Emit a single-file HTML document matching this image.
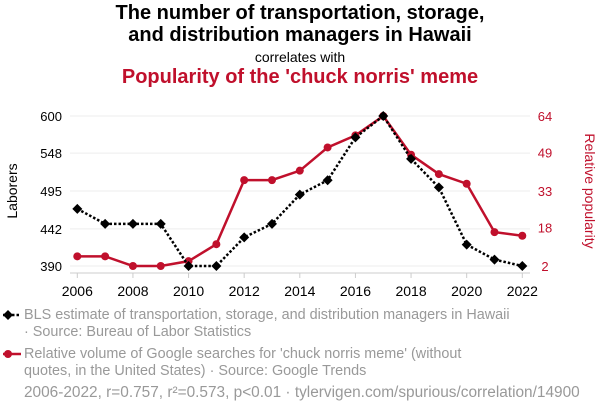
<!DOCTYPE html>
<html><head><meta charset="utf-8"><style>
body{margin:0;background:#fff;font-family:"Liberation Sans",sans-serif;}
#wrap{position:relative;width:600px;height:414px;overflow:hidden;}
.t{position:absolute;left:0;width:600px;text-align:center;}
.leg{position:absolute;left:24px;font-size:14.4px;color:#999;line-height:17px;white-space:nowrap;}
</style></head><body>
<div id="wrap">
<div class="t" style="top:2px;font-size:20px;font-weight:bold;line-height:22px;color:#000">The number of transportation, storage,<br>and distribution managers in Hawaii</div>
<div class="t" style="top:49px;font-size:14px;color:#000">correlates with</div>
<div class="t" style="top:66px;font-size:20px;font-weight:bold;color:#c0102c">Popularity of the 'chuck norris' meme</div>
<svg id="svg" width="600" height="414" style="position:absolute;left:0;top:0"></svg>
<div class="leg" style="top:307px">BLS estimate of transportation, storage, and distribution managers in Hawaii<br>· Source: Bureau of Labor Statistics</div>
<div class="leg" style="top:346px">Relative volume of Google searches for 'chuck norris meme' (without<br>quotes, in the United States) · Source: Google Trends</div>
<div class="leg" style="top:384px;left:24px;font-size:15.4px">2006-2022, r=0.757, r²=0.573, p&lt;0.01 · tylervigen.com/spurious/correlation/14900</div>
</div>
<script>
const years=[2006,2007,2008,2009,2010,2011,2012,2013,2014,2015,2016,2017,2018,2019,2020,2021,2022];
const laborers=[470,449,449,449,390,390,430,449,490,510,570,600,540,500,420,399,390];
const popularity=[6,6,2,2,4,11,37.5,37.5,41.4,51,56,64,48,40,36,16,14.5];
const leftTicks=[390,442,495,548,600];
const rightTicks=[2,18,33,49,64];
const xTicks=[2006,2008,2010,2012,2014,2016,2018,2020,2022];
const NS="http://www.w3.org/2000/svg";
const svg=document.getElementById('svg');
const x=v=>77.3+(v-2006)*(522.3-77.3)/16;
const yL=v=>266-(v-390)*150/210;
const yR=v=>266-(v-2)*150/62;
function mk(t,a){const e=document.createElementNS(NS,t);for(const k in a)e.setAttribute(k,a[k]);svg.appendChild(e);return e;}
leftTicks.forEach(v=>{
 let g=mk('line',{x1:70,x2:530,y1:yL(v),y2:yL(v),stroke:'#eee','stroke-width':1});
 
 
 let t=mk('text',{x:62,y:yL(v)+5,'text-anchor':'end','font-size':13,fill:'#000'});t.textContent=v;
 
 
});
rightTicks.forEach(v=>{
 let t=mk('text',{x:545,y:yR(v)+5,'text-anchor':'middle','font-size':13,fill:'#c0102c'});t.textContent=v;
 
 
});
let ax=mk('line',{x1:70,x2:530,y1:273,y2:273,stroke:'#ccc'});


xTicks.forEach(v=>{
 let l=mk('line',{x1:x(v),x2:x(v),y1:273,y2:278,stroke:'#ccc'});
 
 
 let t=mk('text',{x:x(v),y:296,'text-anchor':'middle','font-size':14,fill:'#000'});t.textContent=v;
 
 
});
let yl=mk('text',{x:0,y:0,transform:'translate(17,191) rotate(-90)','text-anchor':'middle','font-size':14,fill:'#000'});yl.textContent='Laborers';


let yr=mk('text',{x:0,y:0,transform:'translate(585,191) rotate(90)','text-anchor':'middle','font-size':14,fill:'#c0102c'});yr.textContent='Relative popularity';


let rp=mk('polyline',{points:years.map((y,i)=>x(y)+','+yR(popularity[i])).join(' '),fill:'none',stroke:'#c0102c','stroke-width':2.5});


years.forEach((y,i)=>{let c=mk('circle',{cx:x(y),cy:yR(popularity[i]),r:4,fill:'#c0102c'});
 
 });
let bp=mk('polyline',{points:years.map((y,i)=>x(y)+','+yL(laborers[i])).join(' '),fill:'none',stroke:'#000','stroke-width':2.5,'stroke-dasharray':'2.5 2'});


years.forEach((y,i)=>{const cx=x(y),cy=yL(laborers[i]);
 let d=mk('polygon',{points:`${cx},${cy-5} ${cx+5},${cy} ${cx},${cy+5} ${cx-5},${cy}`,fill:'#000'});
 
 });
let l1=mk('line',{x1:3,x2:21,y1:315,y2:315,stroke:'#000','stroke-width':2.5,'stroke-dasharray':'2.5 2'});


let d1=mk('polygon',{points:'8,310 13,315 8,320 3,315',fill:'#000'});


let l2=mk('line',{x1:3,x2:21,y1:354,y2:354,stroke:'#c0102c','stroke-width':2.5});


let c2=mk('circle',{cx:8,cy:354,r:4,fill:'#c0102c'});


</script>
</body></html>
